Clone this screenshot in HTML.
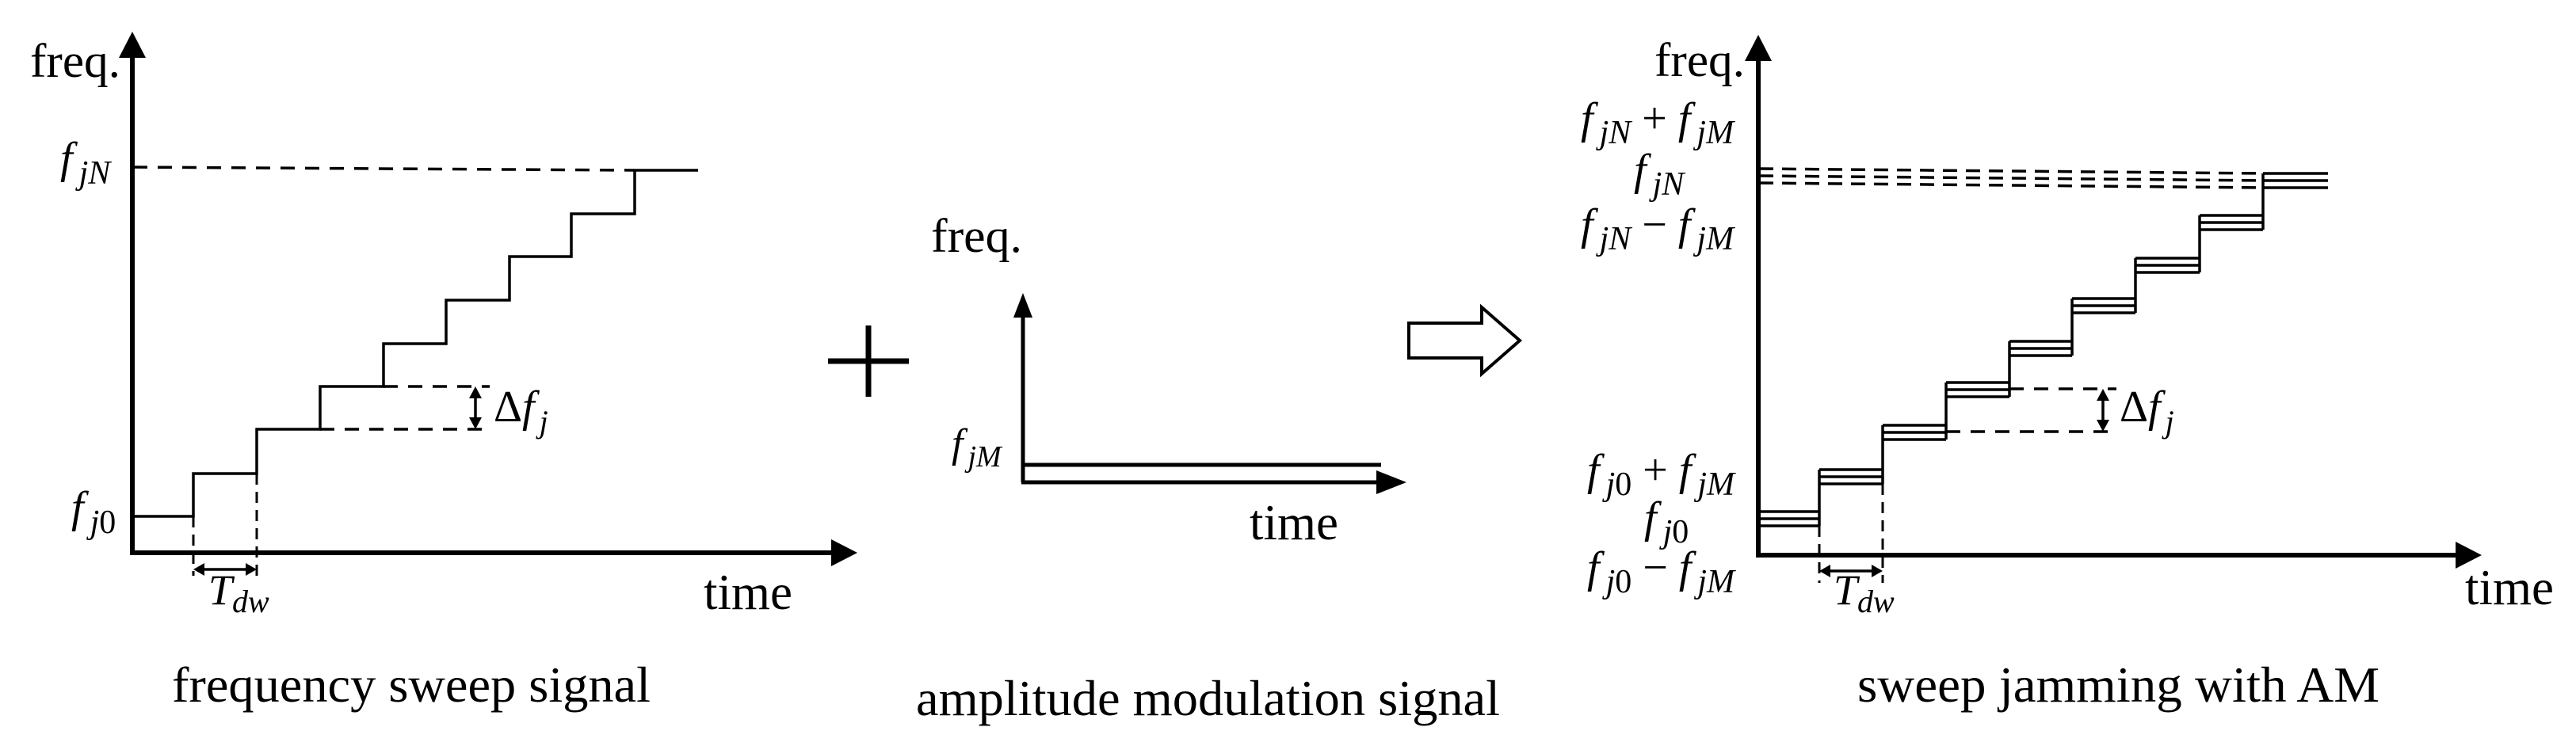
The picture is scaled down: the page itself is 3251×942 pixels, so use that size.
<!DOCTYPE html>
<html><head><meta charset="utf-8"><style>
html,body{margin:0;padding:0;background:#fff}
svg{display:block}
text{font-family:"Liberation Serif","DejaVu Serif",serif;fill:#000}
.i{font-style:italic;font-family:"Liberation Serif","DejaVu Serif",serif}
</style></head><body>
<svg width="3251" height="942" viewBox="0 0 3251 942" xmlns="http://www.w3.org/2000/svg">
<g stroke="#000" fill="none">
<!-- LEFT PANEL -->
<line x1="167" y1="60" x2="167" y2="698" stroke-width="6"/>
<line x1="164" y1="698" x2="1060" y2="698" stroke-width="6"/>
<path d="M168 211 L800 215" stroke-width="3.5" stroke-dasharray="18,13"/>
<path d="M168 652 H244 V598 H324 V542 H404 V488 H484 V434 H563 V379 H643 V324 H721 V270 H801 V215 H881" stroke-width="3.5"/>
<path d="M244 652 V727 M324 598 V727" stroke-width="3" stroke-dasharray="14,9"/>
<line x1="254" y1="719" x2="314" y2="719" stroke-width="3.5"/>
<path d="M484 488 H618 M404 542 H618" stroke-width="3.5" stroke-dasharray="18,13"/>
<line x1="600" y1="500" x2="600" y2="530" stroke-width="3.5"/>
<!-- MIDDLE PANEL -->
<path d="M1045 456 H1147 M1096 411 V501" stroke-width="7"/>
<line x1="1291" y1="390" x2="1291" y2="609" stroke-width="5"/>
<line x1="1289" y1="609" x2="1750" y2="609" stroke-width="5"/>
<line x1="1291" y1="587" x2="1743" y2="587" stroke-width="5"/>
<path d="M1778 408 H1870 V388 L1918 430 L1870 472 V452 H1778 Z" stroke-width="4"/>
<!-- RIGHT PANEL -->
<line x1="2219" y1="62" x2="2219" y2="701" stroke-width="6"/>
<line x1="2216" y1="701" x2="3110" y2="701" stroke-width="6"/>
<path d="M2220 213 L2856 219 M2220 222 L2856 228 M2220 231 L2856 237" stroke-width="3.5" stroke-dasharray="18,11"/>
<g stroke-width="3.5">
<path d="M2219 646 H2296 M2219 655 H2296 M2219 664 H2296"/>
<path d="M2296 593 H2376 M2296 602 H2376 M2296 611 H2376"/>
<path d="M2376 537 H2456 M2376 546 H2456 M2376 555 H2456"/>
<path d="M2456 483 H2536 M2456 492 H2536 M2456 501 H2536"/>
<path d="M2536 431 H2615 M2536 440 H2615 M2536 449 H2615"/>
<path d="M2615 377 H2695 M2615 386 H2695 M2615 395 H2695"/>
<path d="M2695 326 H2776 M2695 335 H2776 M2695 344 H2776"/>
<path d="M2776 272 H2856 M2776 281 H2856 M2776 290 H2856"/>
<path d="M2856 219 H2938 M2856 228 H2938 M2856 237 H2938"/>
<path d="M2296 664 V593 M2376 611 V537 M2456 555 V483 M2536 501 V431 M2615 449 V377 M2695 395 V326 M2776 344 V272 M2856 290 V219"/>
</g>
<path d="M2296 664 V736 M2376 611 V736" stroke-width="3" stroke-dasharray="14,9"/>
<line x1="2306" y1="721" x2="2366" y2="721" stroke-width="3.5"/>
<path d="M2536 491 H2671 M2456 545 H2671" stroke-width="3.5" stroke-dasharray="18,13"/>
<line x1="2654" y1="503" x2="2654" y2="533" stroke-width="3.5"/>
</g>
<g fill="#000">
<path d="M167 40 L150 73 L184 73 Z"/>
<path d="M1082 698 L1049 681 L1049 715 Z"/>
<path d="M244 719 L258 711 L258 727 Z M324 719 L310 711 L310 727 Z"/>
<path d="M600 488 L592 503 L608 503 Z M600 542 L592 527 L608 527 Z"/>
<path d="M1291 370 L1279 401 L1303 401 Z"/>
<path d="M1775 609 L1737 594 L1737 624 Z"/>
<path d="M2219 44 L2202 77 L2236 77 Z"/>
<path d="M3132 701 L3099 684 L3099 718 Z"/>
<path d="M2296 721 L2310 713 L2310 729 Z M2376 721 L2362 713 L2362 729 Z"/>
<path d="M2654 491 L2646 506 L2662 506 Z M2654 545 L2646 530 L2662 530 Z"/>
</g>
<!-- TEXT -->
<text x="38" y="97" font-size="60" textLength="114" lengthAdjust="spacingAndGlyphs">freq.</text>
<text x="76" y="218" font-size="56"><tspan class="i">f</tspan><tspan class="i" font-size="42" dx="8" dy="14">jN</tspan></text>
<text x="90" y="659" font-size="56"><tspan class="i">f</tspan><tspan class="i" font-size="42" dx="8" dy="14">j</tspan><tspan font-size="42">0</tspan></text>
<text x="623" y="532" font-size="56">Δ<tspan class="i">f</tspan><tspan class="i" font-size="40" dx="6" dy="14">j</tspan></text>
<text x="263" y="763" font-size="54"><tspan class="i">T</tspan><tspan class="i" font-size="40" dy="10">dw</tspan></text>
<text x="888" y="769" font-size="63" textLength="112" lengthAdjust="spacingAndGlyphs">time</text>
<text x="217" y="886" font-size="64" textLength="604" lengthAdjust="spacingAndGlyphs">frequency sweep signal</text>

<text x="1175" y="318" font-size="60" textLength="115" lengthAdjust="spacingAndGlyphs">freq.</text>
<text x="1201" y="577" font-size="52"><tspan class="i">f</tspan><tspan class="i" font-size="38" dx="6" dy="12">jM</tspan></text>
<text x="1577" y="681" font-size="63" textLength="112" lengthAdjust="spacingAndGlyphs">time</text>
<text x="1156" y="903" font-size="64" textLength="737" lengthAdjust="spacingAndGlyphs">amplitude modulation signal</text>

<text x="2088" y="96" font-size="60" textLength="114" lengthAdjust="spacingAndGlyphs">freq.</text>
<text x="1995" y="168" font-size="56"><tspan class="i">f</tspan><tspan class="i" font-size="42" dx="8" dy="13">jN</tspan><tspan dy="-13"> + </tspan><tspan class="i">f</tspan><tspan class="i" font-size="42" dx="8" dy="13">jM</tspan></text>
<text x="2062" y="233" font-size="56"><tspan class="i">f</tspan><tspan class="i" font-size="42" dx="8" dy="13">jN</tspan></text>
<text x="1995" y="302" font-size="56"><tspan class="i">f</tspan><tspan class="i" font-size="42" dx="8" dy="13">jN</tspan><tspan dy="-13"> − </tspan><tspan class="i">f</tspan><tspan class="i" font-size="42" dx="8" dy="13">jM</tspan></text>
<text x="2003" y="612" font-size="56"><tspan class="i">f</tspan><tspan class="i" font-size="42" dx="8" dy="13">j</tspan><tspan font-size="42">0</tspan><tspan dy="-13"> + </tspan><tspan class="i">f</tspan><tspan class="i" font-size="42" dx="8" dy="13">jM</tspan></text>
<text x="2075" y="672" font-size="56"><tspan class="i">f</tspan><tspan class="i" font-size="42" dx="8" dy="13">j</tspan><tspan font-size="42">0</tspan></text>
<text x="2003" y="735" font-size="56"><tspan class="i">f</tspan><tspan class="i" font-size="42" dx="8" dy="13">j</tspan><tspan font-size="42">0</tspan><tspan dy="-13"> − </tspan><tspan class="i">f</tspan><tspan class="i" font-size="42" dx="8" dy="13">jM</tspan></text>
<text x="2675" y="532" font-size="56">Δ<tspan class="i">f</tspan><tspan class="i" font-size="40" dx="6" dy="14">j</tspan></text>
<text x="2314" y="763" font-size="54"><tspan class="i">T</tspan><tspan class="i" font-size="40" dy="10">dw</tspan></text>
<text x="3111" y="763" font-size="63" textLength="112" lengthAdjust="spacingAndGlyphs">time</text>
<text x="2344" y="886" font-size="64" textLength="659" lengthAdjust="spacingAndGlyphs">sweep jamming with AM</text>
</svg>
</body></html>
